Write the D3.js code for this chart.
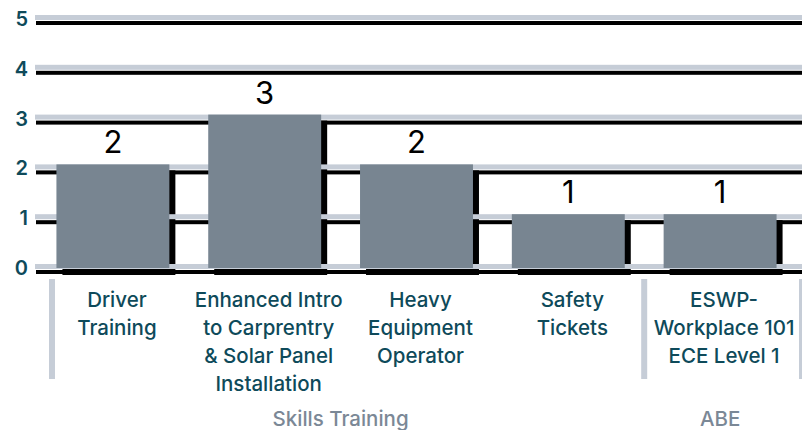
<!DOCTYPE html>
<html>
<head>
<meta charset="utf-8">
<script src="https://cdn.jsdelivr.net/npm/d3@7"></script>
<style>
  html, body { margin: 0; padding: 0; background: #ffffff; }
  svg { display: block; font-family: "Inter", "Open Sans", sans-serif; }
</style>
</head>
<body>
<svg id="chart" width="802" height="430"></svg>
<script>
// ---- data ----
const categories = [
  ["Driver", "Training"],
  ["Enhanced Intro", "to Carprentry", "& Solar Panel", "Installation"],
  ["Heavy", "Equipment", "Operator"],
  ["Safety", "Tickets"],
  ["ESWP-", "Workplace 101", "ECE Level 1"]
];
const values = [2, 3, 2, 1, 1];
const groups = ["Skills Training", "Skills Training", "Skills Training", "Skills Training", "ABE"];
const groupNames = ["Skills Training", "ABE"];
const yTicks = [0, 1, 2, 3, 4, 5];

// ---- layout ----
const W = 802, H = 430;
const svg = d3.select("#chart");
const keys = categories.map((c, i) => "c" + i);

const x = d3.scaleBand().domain(keys).range([37, 796]).paddingInner(0.256).paddingOuter(0.128);
const y = d3.scaleLinear().domain([0, 5]).range([264, 15]);

const gridLeft = 35, gridRight = W;
const labelColor = "#0e4a5a";
const gridGray = "#c6cdd7";
const barColor = "#788591";
const shadow = 6;

// bar shadows
svg.append("g").selectAll("rect").data(values).join("rect")
  .attr("x", (d, i) => x(keys[i]) + shadow)
  .attr("y", d => y(d) + shadow)
  .attr("width", x.bandwidth())
  .attr("height", d => y(0) + 5 + shadow - (y(d) + shadow))
  .attr("fill", "#000");

// gridline shadows
svg.append("g").selectAll("rect").data(yTicks).join("rect")
  .attr("x", gridLeft + 1)
  .attr("y", d => y(d) + 6)
  .attr("width", gridRight - gridLeft - 1)
  .attr("height", 4)
  .attr("fill", "#000");

// gray gridlines
svg.append("g").selectAll("rect").data(yTicks).join("rect")
  .attr("x", gridLeft)
  .attr("y", d => y(d))
  .attr("width", gridRight - gridLeft)
  .attr("height", 5)
  .attr("fill", gridGray);

// bars
svg.append("g").selectAll("rect").data(values).join("rect")
  .attr("x", (d, i) => x(keys[i]))
  .attr("y", d => y(d))
  .attr("width", x.bandwidth())
  .attr("height", d => y(0) + 4 - y(d))
  .attr("fill", barColor);

// value labels
svg.append("g").selectAll("text").data(values).join("text")
  .attr("x", (d, i) => x(keys[i]) + x.bandwidth() / 2)
  .attr("y", d => y(d) - 11)
  .attr("text-anchor", "middle")
  .attr("font-size", 31)
  .attr("font-weight", 400)
  .attr("fill", "#000")
  .text(d => d);

// y tick labels
svg.append("g").selectAll("text").data(yTicks).join("text")
  .attr("x", 28)
  .attr("y", d => y(d) + 11)
  .attr("text-anchor", "end")
  .attr("font-size", 20)
  .attr("font-weight", 600)
  .attr("fill", labelColor)
  .text(d => d);

// category labels
const catG = svg.append("g").selectAll("text").data(categories).join("text")
  .attr("text-anchor", "middle")
  .attr("font-size", 20.5)
  .attr("font-weight", 500)
  .attr("fill", labelColor);
catG.each(function(lines, i) {
  const cx = x(keys[i]) + x.bandwidth() / 2 + 4;
  d3.select(this).selectAll("tspan").data(lines).join("tspan")
    .attr("x", cx)
    .attr("y", (l, j) => 307 + j * 28)
    .text(l => l);
});

// group separators and labels
const step = x.step(), gap = step - x.bandwidth();
groupNames.forEach((g, gi) => {
  const idx = groups.map((gg, i) => gg === g ? i : -1).filter(i => i >= 0);
  const first = keys[idx[0]], last = keys[idx[idx.length - 1]];
  const left = x(first) - gap / 2;
  svg.append("rect")
    .attr("x", left - 3 + (gi === 0 ? 15 : 0))
    .attr("y", 279)
    .attr("width", 6)
    .attr("height", 100)
    .attr("fill", gridGray);
  const cx = (x(first) + x(last) + x.bandwidth()) / 2;
  svg.append("text")
    .attr("x", cx)
    .attr("y", 426)
    .attr("text-anchor", "middle")
    .attr("font-size", 20.5)
    .attr("font-weight", 500)
    .attr("fill", "#7b8896")
    .text(g);
});
// closing separator at right end
svg.append("rect")
  .attr("x", x.range()[1] + 3)
  .attr("y", 279)
  .attr("width", 6)
  .attr("height", 100)
  .attr("fill", gridGray);
</script>
</body>
</html>
